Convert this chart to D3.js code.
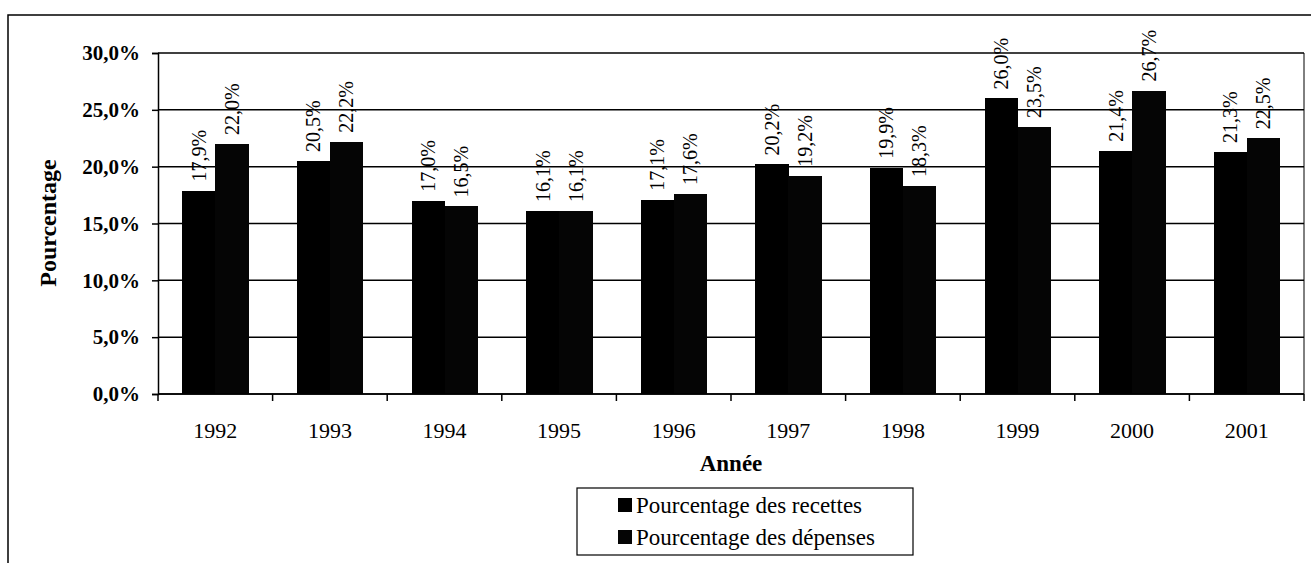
<!DOCTYPE html>
<html>
<head>
<meta charset="utf-8">
<script src="https://cdn.jsdelivr.net/npm/d3@7"></script>
<style>
    body { margin: 0; background: #fff; }
    svg text { font-family: "Liberation Serif", "Times New Roman", serif; fill: #000; }
</style>
</head>
<body>
<svg id="chart" width="1311" height="563"></svg>
<script>
// values
var years = ["1992", "1993", "1994", "1995", "1996", "1997", "1998", "1999", "2000", "2001"];
var series = ["Pourcentage des recettes", "Pourcentage des dépenses"];
var recettes = [17.9, 20.5, 17.0, 16.1, 17.1, 20.2, 19.9, 26.0, 21.4, 21.3];
var depenses = [22.0, 22.2, 16.5, 16.1, 17.6, 19.2, 18.3, 23.5, 26.7, 22.5];
var yTicks = [0, 5, 10, 15, 20, 25, 30];
var colors = ["#000", "#050505"];

var svg = d3.select("#chart");
var plotLeft = 158, plotRight = 1304, plotTop = 53, plotBottom = 394;

function fmt(v) {
    return v.toFixed(1).replace(".", ",") + "%";
}

// outer frame, runs past the right and bottom edge
svg.append("rect").attr("x", 8).attr("y", 15).attr("width", 1340).attr("height", 600)
    .attr("fill", "none").attr("stroke", "#000").attr("stroke-width", 1.5);

var x0 = d3.scaleBand().domain(years).range([plotLeft, plotRight]);
var x1 = d3.scaleBand().domain(series).range([0, x0.bandwidth()]).paddingOuter(0.74);
var y = d3.scaleLinear().domain([0, 30]).range([plotBottom, plotTop]);

// gridlines
svg.append("g").selectAll("line").data(yTicks).enter().append("line")
    .attr("x1", plotLeft).attr("x2", plotRight)
    .attr("y1", function (d) { return y(d); }).attr("y2", function (d) { return y(d); })
    .attr("stroke", "#000").attr("stroke-width", 1.5);

// right border of the plot area
svg.append("line").attr("x1", plotRight).attr("x2", plotRight).attr("y1", plotTop).attr("y2", plotBottom)
    .attr("stroke", "#000").attr("stroke-width", 1);

// bars
var data = years.map(function (yr, i) {
    return { year: yr, values: [recettes[i], depenses[i]] };
});
var group = svg.append("g").selectAll("g").data(data).enter().append("g")
    .attr("transform", function (d) { return "translate(" + x0(d.year) + ",0)"; });
group.selectAll("rect").data(function (d) { return d.values; }).enter().append("rect")
    .attr("x", function (d, i) { return x1(series[i]); })
    .attr("width", x1.bandwidth() + 0.5)
    .attr("y", function (d) { return y(d); })
    .attr("height", function (d) { return y(0) - y(d); })
    .attr("fill", function (d, i) { return colors[i]; })
    .attr("shape-rendering", "crispEdges");
group.selectAll("text").data(function (d) { return d.values; }).enter().append("text")
    .attr("transform", function (d, i) {
        return "translate(" + (x1(series[i]) + x1.bandwidth() / 2) + "," + (y(d) - 9) + ") rotate(-90)";
    })
    .attr("dy", "0.35em")
    .attr("font-size", 20)
    .text(fmt);

// y axis
var yAxis = d3.axisLeft(y).tickValues(yTicks).tickSize(6).tickPadding(12).tickFormat(fmt);
var gy = svg.append("g").attr("transform", "translate(" + plotLeft + ",0)").call(yAxis);
gy.select(".domain").attr("stroke-width", 1.5);
gy.selectAll(".tick line").attr("stroke-width", 1.5);
gy.selectAll("text").attr("font-size", 21).attr("font-weight", "bold")
    .attr("font-family", "Liberation Serif");

// x axis with ticks between categories
var gx = svg.append("g").attr("transform", "translate(0," + plotBottom + ")");
gx.append("line").attr("x1", plotLeft).attr("x2", plotRight).attr("stroke", "#000").attr("stroke-width", 1.5);
gx.selectAll("line.tk").data(years.concat(["end"])).enter().append("line").attr("class", "tk")
    .attr("x1", function (d, i) { return plotLeft + i * x0.step(); })
    .attr("x2", function (d, i) { return plotLeft + i * x0.step(); })
    .attr("y1", 0).attr("y2", 7).attr("stroke", "#000").attr("stroke-width", 1.5);
gx.selectAll("text").data(years).enter().append("text")
    .attr("x", function (d) { return x0(d) + x0.bandwidth() / 2; })
    .attr("y", 36).attr("dy", "0.35em")
    .attr("text-anchor", "middle").attr("font-size", 22)
    .text(function (d) { return d; });

// axis titles
svg.append("text").attr("x", 731).attr("y", 463).attr("dy", "0.35em")
    .attr("text-anchor", "middle").attr("font-size", 23).attr("font-weight", "bold").text("Année");
svg.append("text").attr("transform", "translate(48,223) rotate(-90)").attr("dy", "0.35em")
    .attr("text-anchor", "middle").attr("font-size", 24).attr("font-weight", "bold").text("Pourcentage");

// legend
var lg = svg.append("g");
lg.append("rect").attr("x", 577).attr("y", 488).attr("width", 336).attr("height", 67)
    .attr("fill", "#fff").attr("stroke", "#000").attr("stroke-width", 1.2);
var item = lg.selectAll("g").data(series).enter().append("g")
    .attr("transform", function (d, i) { return "translate(618," + (505 + i * 32) + ")"; });
item.append("rect").attr("x", 0).attr("y", -7).attr("width", 14).attr("height", 14)
    .attr("fill", function (d, i) { return colors[i]; });
item.append("text").attr("x", 18).attr("dy", "0.35em").attr("font-size", 23)
    .text(function (d) { return d; });
</script>
</body>
</html>
